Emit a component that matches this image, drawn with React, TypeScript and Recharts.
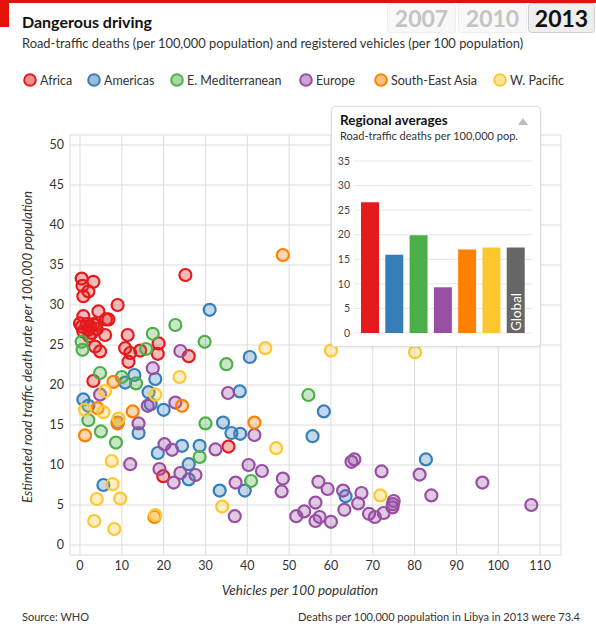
import React from 'react';
import {
  ScatterChart,
  Scatter,
  XAxis,
  YAxis,
  CartesianGrid,
  BarChart,
  Bar,
  Cell,
  LabelList,
} from 'recharts';

const FONT = 'Lato, "Noto Sans", sans-serif';

const REGIONS = ['Africa', 'Americas', 'E. Mediterranean', 'Europe', 'South-East Asia', 'W. Pacific'];
const COLORS = ['#e41a1c', '#377eb8', '#4daf4a', '#984ea3', '#ff7f00', '#fdc82f'];
const YEARS = ['2007', '2010', '2013'];

// [vehicles per 100 population, deaths per 100,000 population]
const africa: [number, number][] = [
  [0.4, 33.3], [3.2, 32.9], [0.6, 32.4], [2.0, 31.7], [0.8, 31.1], [9.0, 30.0],
  [4.4, 29.2], [6.2, 28.2], [6.8, 28.2], [0.8, 28.6], [0.0, 27.7], [0.4, 27.3],
  [1.6, 27.6], [2.4, 27.3], [3.2, 27.6], [3.8, 27.5], [2.0, 26.9], [2.8, 26.5],
  [0.8, 26.7], [2.2, 26.1], [6.0, 26.25], [11.4, 26.25], [3.6, 24.8], [4.8, 24.2],
  [10.8, 24.6], [12.0, 24.0], [11.6, 22.9], [14.4, 24.3], [18.8, 25.2], [18.6, 23.9],
  [26.0, 23.6], [25.2, 33.75], [3.2, 20.5], [35.5, 12.3], [19.9, 8.6], [4.0, 27.0],
];
const americas: [number, number][] = [
  [0.8, 18.2], [2.0, 17.4], [13.0, 21.25], [10.8, 20.3], [18.0, 20.75], [16.4, 19.1],
  [16.9, 17.6], [20.0, 16.9], [31.0, 29.4], [34.2, 15.3], [36.2, 14.0], [38.3, 13.9],
  [38.2, 19.2], [9.0, 15.3], [14.0, 14.0], [5.6, 7.5], [18.6, 11.5], [24.4, 12.4],
  [26.0, 10.1], [26.0, 8.2], [28.6, 12.4], [33.4, 6.8], [40.6, 23.5], [58.3, 16.7],
  [55.6, 13.6], [39.4, 6.8], [63.5, 6.1], [82.7, 10.7],
];
const eastMed: [number, number][] = [
  [0.4, 25.4], [0.6, 24.4], [4.8, 21.5], [10.0, 21.0], [13.4, 20.2], [15.8, 24.5],
  [17.4, 26.4], [22.8, 27.5], [29.8, 25.4], [35.0, 22.6], [2.0, 15.6], [30.0, 15.2],
  [5.0, 14.2], [8.6, 12.8], [28.6, 11.0], [54.6, 18.75], [40.9, 8.0],
];
const europe: [number, number][] = [
  [4.8, 18.8], [17.4, 22.1], [24.0, 24.25], [16.2, 17.4], [22.8, 17.8], [14.0, 15.2],
  [35.4, 19.0], [12.0, 10.1], [20.2, 12.6], [22.0, 11.9], [19.0, 9.5], [22.4, 7.8],
  [24.0, 9.0], [27.6, 8.75], [32.4, 11.95], [37.2, 7.8], [37.0, 3.6], [41.7, 13.75],
  [40.3, 10.0], [43.5, 9.25], [48.5, 8.3], [48.2, 6.7], [57.0, 7.9], [59.2, 7.0],
  [62.9, 6.8], [56.3, 5.3], [63.2, 4.4], [64.9, 10.4], [65.6, 10.7], [51.7, 3.6],
  [53.6, 4.2], [57.3, 3.5], [56.3, 3.0], [60.0, 2.9], [66.5, 5.2], [67.3, 6.5],
  [72.1, 9.2], [81.2, 8.8], [84.0, 6.2], [96.2, 7.8], [107.9, 5.0], [69.1, 3.9],
  [70.5, 3.5], [72.6, 4.0], [74.7, 4.7], [75.0, 5.5], [74.8, 5.1],
];
const southEastAsia: [number, number][] = [
  [8.0, 20.4], [4.2, 17.1], [24.4, 17.4], [12.6, 16.7], [9.0, 15.2], [1.2, 13.7],
  [17.8, 3.5], [41.7, 15.3], [48.5, 36.25],
];
const westPacific: [number, number][] = [
  [6.0, 19.25], [18.0, 18.8], [23.8, 21.0], [1.2, 16.9], [5.6, 16.6], [9.2, 15.8],
  [7.6, 10.5], [7.8, 7.6], [4.0, 5.75], [9.6, 5.8], [3.4, 3.0], [8.2, 2.0],
  [18.0, 3.75], [44.3, 24.6], [60.0, 24.3], [46.9, 12.1], [34.0, 4.8], [80.1, 24.1],
  [71.8, 6.2],
];
const SERIES = [africa, americas, eastMed, europe, southEastAsia, westPacific];

const X_TICKS = [0, 10, 20, 30, 40, 50, 60, 70, 80, 90, 100, 110];
const Y_TICKS = [0, 5, 10, 15, 20, 25, 30, 35, 40, 45, 50];

// inset: regional averages
const AVG_LABELS = ['Africa', 'Americas', 'E. Mediterranean', 'Europe', 'South-East Asia', 'W. Pacific', 'Global'];
const AVG_VALUES = [26.6, 15.9, 19.9, 9.3, 17.0, 17.4, 17.4];
const AVG_COLORS = [...COLORS, '#666666'];
const AVG_TICKS = [0, 5, 10, 15, 20, 25, 30, 35];

const LEGEND_X = [30, 94, 177, 306, 381, 500];

const makeDot = (color: string) => (props: any) => (
  <circle
    cx={props.cx}
    cy={props.cy}
    r={6}
    fill={color}
    fillOpacity={0.3}
    stroke={color}
    strokeWidth={2.2}
  />
);

const GlobalLabel = (props: any) => {
  const { x, y, width, height, index } = props;
  if (index !== AVG_VALUES.length - 1) return null;
  const cx = x + width / 2;
  const cy = y + height - 21;
  return (
    <text
      x={cx}
      y={cy}
      transform={`rotate(-90 ${cx} ${cy})`}
      textAnchor="middle"
      dominantBaseline="central"
      fill="#fff"
      fontSize={13.5}
      fontFamily={FONT}
    >
      Global
    </text>
  );
};

export default function App() {
  const avgData = AVG_LABELS.map((name, i) => ({ name, value: AVG_VALUES[i] }));

  return (
    <div style={{ position: 'relative', width: 596, height: 631, background: '#fff', fontFamily: FONT }}>
      <style>{'body{margin:0}'}</style>

      <ScatterChart
        width={596}
        height={631}
        margin={{ top: 135, right: 35, bottom: 46, left: 10 }}
        style={{ position: 'absolute', left: 0, top: 0 }}
      >
        <CartesianGrid stroke="#dcdcdc" />
        <XAxis
          type="number"
          dataKey="x"
          domain={[-2.39, 115]}
          ticks={X_TICKS}
          allowDataOverflow
          axisLine={false}
          tickLine={false}
          tickSize={4}
          tickMargin={2}
          height={30}
          tick={{ fontSize: 12.5, fill: '#333', fontFamily: FONT }}
        />
        <YAxis
          type="number"
          dataKey="y"
          domain={[-1.25, 51.25]}
          ticks={Y_TICKS}
          allowDataOverflow
          axisLine={false}
          tickLine={false}
          tickSize={4}
          tickMargin={2}
          width={60}
          tick={{ fontSize: 12.5, fill: '#333', fontFamily: FONT }}
        />
        {SERIES.map((pts, i) => (
          <Scatter
            key={REGIONS[i]}
            name={REGIONS[i]}
            data={pts.map(([x, y]) => ({ x, y }))}
            shape={makeDot(COLORS[i])}
            isAnimationActive={false}
          />
        ))}
      </ScatterChart>

      <svg
        width={596}
        height={631}
        style={{ position: 'absolute', left: 0, top: 0, pointerEvents: 'none' }}
        fontFamily={FONT}
      >
        <rect x={0} y={0} width={596} height={3} fill="#e3120b" />
        <rect x={0} y={0} width={9} height={27} fill="#e3120b" />

        {YEARS.map((yr, i) => {
          const active = i === YEARS.length - 1;
          const bx = [387, 458, 528][i];
          const bw = [68, 68, 66][i];
          return (
            <g key={yr}>
              <rect
                x={bx + 0.5}
                y={3.5}
                width={bw}
                height={29}
                rx={3}
                fill={active ? '#eeeeee' : '#f8f8f8'}
                stroke={active ? '#cfcfcf' : '#eeeeee'}
              />
              <text
                x={bx + bw / 2 + 0.5}
                y={26.5}
                textAnchor="middle"
                fontSize={23}
                fontWeight={700}
                fill={active ? '#111' : '#c4c4c4'}
              >
                {yr}
              </text>
            </g>
          );
        })}

        <text x={22} y={28} fontSize={16} fontWeight={700} fill="#111">
          Dangerous driving
        </text>
        <text x={22} y={48} fontSize={12.9} fill="#333">
          Road-traffic deaths (per 100,000 population) and registered vehicles (per 100 population)
        </text>

        {REGIONS.map((name, i) => (
          <g key={name}>
            <circle
              cx={LEGEND_X[i]}
              cy={80}
              r={5.8}
              fill={COLORS[i]}
              fillOpacity={0.5}
              stroke={COLORS[i]}
              strokeWidth={2}
            />
            <text x={LEGEND_X[i] + 10} y={85} fontSize={12.5} fill="#333">
              {name}
            </text>
          </g>
        ))}

        <text
          x={27}
          y={347}
          transform="rotate(-90 27 347)"
          textAnchor="middle"
          dominantBaseline="central"
          fontSize={13.2}
          fontStyle="italic"
          fill="#333"
        >
          Estimated road traffic death rate per 100,000 population
        </text>
        <text x={300} y={595} textAnchor="middle" fontSize={13.5} fontStyle="italic" fill="#333">
          Vehicles per 100 population
        </text>

        <text x={22} y={621} fontSize={11} fill="#333">
          Source: WHO
        </text>
        <text x={580} y={621} textAnchor="end" fontSize={11} fill="#333">
          Deaths per 100,000 population in Libya in 2013 were 73.4
        </text>
      </svg>

      <div
        style={{
          position: 'absolute',
          left: 331,
          top: 106,
          width: 208,
          height: 239,
          background: '#fff',
          border: '1px solid #dedede',
          borderRadius: 4,
          boxShadow: '0 1px 3px rgba(0,0,0,0.08)',
        }}
      >
        <svg width={208} height={40} style={{ position: 'absolute', left: 0, top: 0 }} fontFamily={FONT}>
          <text x={8} y={18} fontSize={13.5} fontWeight={700} fill="#111">
            Regional averages
          </text>
          <text x={8} y={33} fontSize={11} fill="#333">
            Road-traffic deaths per 100,000 pop.
          </text>
          <polygon points="186,18 196,18 191,11" fill="#bdbdbd" />
        </svg>
        <BarChart
          width={208}
          height={239}
          data={avgData}
          margin={{ top: 54, right: 8, bottom: 13, left: 0 }}
          style={{ position: 'absolute', left: 0, top: 0 }}
        >
          <CartesianGrid vertical={false} stroke="#e6e6e6" />
          <XAxis dataKey="name" hide padding={{ left: 4, right: 4 }} />
          <YAxis
            domain={[0, 35]}
            ticks={AVG_TICKS}
            axisLine={false}
            tickLine={false}
            tickSize={2}
            tickMargin={2}
            width={22}
            tick={{ fontSize: 10.5, fill: '#444', fontFamily: FONT }}
          />
          <Bar dataKey="value" barSize={18} isAnimationActive={false}>
            {avgData.map((d, i) => (
              <Cell key={d.name} fill={AVG_COLORS[i]} />
            ))}
            <LabelList dataKey="value" content={GlobalLabel} />
          </Bar>
        </BarChart>
      </div>
    </div>
  );
}
